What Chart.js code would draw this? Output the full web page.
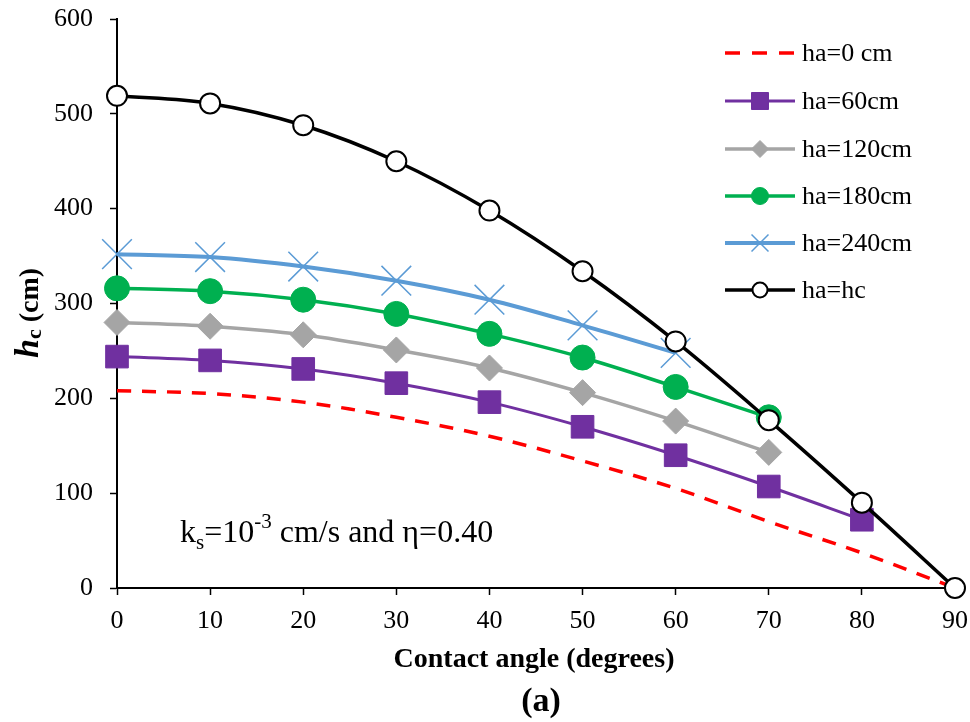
<!DOCTYPE html>
<html>
<head>
<meta charset="utf-8">
<script src="https://cdn.jsdelivr.net/npm/chart.js@4.4.0/dist/chart.umd.min.js"></script>
<style>
  html, body { margin: 0; padding: 0; background: #fff; }
  canvas { display: block; }
</style>
</head>
<body>
<canvas id="hcChart" width="970" height="722"></canvas>
<script>
// values
const angles = [0, 10, 20, 30, 40, 50, 60, 70, 80, 90];
const ha0   = [208, 205, 196, 180, 160, 134, 105, 70, 37, 0];
const ha60  = [244, 240, 231, 216, 196, 170, 140, 107, 72, null];
const ha120 = [280, 276, 267, 251, 232, 206, 176, 143, null, null];
const ha180 = [316, 313, 304, 289, 268, 243, 212, 180, null, null];
const ha240 = [352, 349, 339, 324, 304, 277, 248, null, null, null];
const haHc  = [519, 511, 488, 450, 398, 334, 260, 177, 90, 0];
const seriesNames = ['ha=0 cm', 'ha=60cm', 'ha=120cm', 'ha=180cm', 'ha=240cm', 'ha=hc'];

const serif = "'Liberation Serif', 'Times New Roman', serif";

function pts(vals) {
    return angles.map((a, i) => ({ x: a, y: vals[i] })).filter(p => p.y !== null);
}

function series(label, vals, color, extra) {
    return Object.assign({
        label: label,
        data: pts(vals),
        borderColor: color,
        backgroundColor: color,
        pointBackgroundColor: color,
        pointBorderColor: color,
        pointBorderWidth: 1,
        tension: 0.35,
        clip: false
    }, extra);
}

const datasets = [
    series(seriesNames[0], ha0, '#FF0000', { borderWidth: 3.5, borderDash: [14, 11], pointRadius: 0, order: 6 }),
    series(seriesNames[1], ha60, '#7030A0', { borderWidth: 3, pointStyle: 'rect', pointRadius: 16, order: 5 }),
    series(seriesNames[2], ha120, '#A5A5A5', { borderWidth: 3.5, pointStyle: 'rectRot', pointRadius: 13, order: 4 }),
    series(seriesNames[3], ha180, '#00B050', { borderWidth: 3.5, pointStyle: 'circle', pointRadius: 12.5, order: 3 }),
    series(seriesNames[4], ha240, '#5B9BD5', { borderWidth: 4, pointStyle: 'crossRot', pointRadius: 21, pointBorderWidth: 1.5, order: 2 }),
    series(seriesNames[5], haHc, '#000000', { borderWidth: 3.5, pointStyle: 'circle', pointRadius: 10, pointBackgroundColor: '#fff', pointBorderWidth: 2, order: 1 })
];

// legend entries: marker look in the legend (smaller than on the plot)
const legendMarks = [
    null,
    { pointStyle: 'rect', radius: 12, fill: '#7030A0', stroke: '#7030A0', bw: 1 },
    { pointStyle: 'rectRot', radius: 8.5, fill: '#A5A5A5', stroke: '#A5A5A5', bw: 1 },
    { pointStyle: 'circle', radius: 8.5, fill: '#00B050', stroke: '#00B050', bw: 1 },
    { pointStyle: 'crossRot', radius: 12, fill: '#5B9BD5', stroke: '#5B9BD5', bw: 1.5 },
    { pointStyle: 'circle', radius: 7.5, fill: '#fff', stroke: '#000', bw: 2 }
];

const overlay = {
    id: 'overlay',
    afterDraw(chart) {
        const c = chart.ctx;
        c.save();
        c.fillStyle = '#000';

        // legend
        const rowY = [53, 101, 149, 196, 243, 290];
        datasets.forEach((ds, i) => {
            const y = rowY[i];
            c.save();
            c.strokeStyle = ds.borderColor;
            c.lineWidth = ds.borderWidth;
            c.setLineDash(i === 0 ? [15, 12] : []);
            c.beginPath();
            c.moveTo(725, y);
            c.lineTo(795, y);
            c.stroke();
            c.restore();
            const m = legendMarks[i];
            if (m) {
                c.save();
                c.fillStyle = m.fill;
                c.strokeStyle = m.stroke;
                c.lineWidth = m.bw;
                Chart.helpers.drawPoint(c, { pointStyle: m.pointStyle, radius: m.radius, rotation: 0, borderWidth: m.bw }, 760, y);
                c.restore();
            }
            c.font = '26px ' + serif;
            c.textBaseline = 'middle';
            c.textAlign = 'left';
            c.fillText(ds.label, 802, y + 1);
        });

        // annotation  ks=10^-3 cm/s and eta=0.40
        c.textBaseline = 'alphabetic';
        c.textAlign = 'left';
        let x = 180;
        const base = 542;
        const put = (txt, size, dy) => {
            c.font = size + 'px ' + serif;
            c.fillText(txt, x, base + dy);
            x += c.measureText(txt).width;
        };
        put('k', 32, 0);
        put('s', 21, 7);
        put('=10', 32, 0);
        put('-3', 21, -14);
        put(' cm/s and \u03B7=0.40', 32, 0);

        // y axis title
        c.save();
        c.translate(38, 358);
        c.rotate(-Math.PI / 2);
        let tx = 0;
        c.font = 'italic bold 34px ' + serif;
        c.fillText('h', tx, 0);
        tx += c.measureText('h').width;
        c.font = 'bold 22px ' + serif;
        c.fillText('c', tx, 3);
        tx += c.measureText('c').width;
        c.font = 'bold 28px ' + serif;
        c.fillText(' (cm)', tx, 0);
        c.restore();

        // x axis title and panel label
        c.textAlign = 'center';
        c.font = 'bold 28px ' + serif;
        c.fillText('Contact angle (degrees)', 534, 667);
        c.font = 'bold 34px ' + serif;
        c.fillText('(a)', 541, 711);
        c.restore();
    }
};

new Chart(document.getElementById('hcChart'), {
    type: 'line',
    data: { datasets: datasets },
    options: {
        responsive: false,
        animation: false,
        devicePixelRatio: 1,
        layout: { autoPadding: false, padding: { top: 19, right: 15, left: 0, bottom: 0 } },
        scales: {
            x: {
                type: 'linear',
                min: 0,
                max: 90,
                afterFit: s => { s.height = 134; s.paddingLeft = 0; s.paddingRight = 0; },
                ticks: { stepSize: 10, color: '#000', padding: 11, font: { family: serif, size: 26 } },
                grid: { display: true, drawOnChartArea: false, drawTicks: true, tickLength: 7, tickColor: '#000', tickWidth: 1.5 },
                border: { display: true, color: '#000', width: 2 }
            },
            y: {
                min: 0,
                max: 600,
                afterFit: s => { s.width = 117; s.paddingTop = 0; s.paddingBottom = 0; },
                ticks: { stepSize: 100, color: '#000', padding: 17, font: { family: serif, size: 26 } },
                grid: { display: true, drawOnChartArea: false, drawTicks: true, tickLength: 7, tickColor: '#000', tickWidth: 1.5 },
                border: { display: true, color: '#000', width: 2 }
            }
        },
        plugins: {
            legend: { display: false },
            tooltip: { enabled: false }
        }
    },
    plugins: [overlay]
});
</script>
</body>
</html>
